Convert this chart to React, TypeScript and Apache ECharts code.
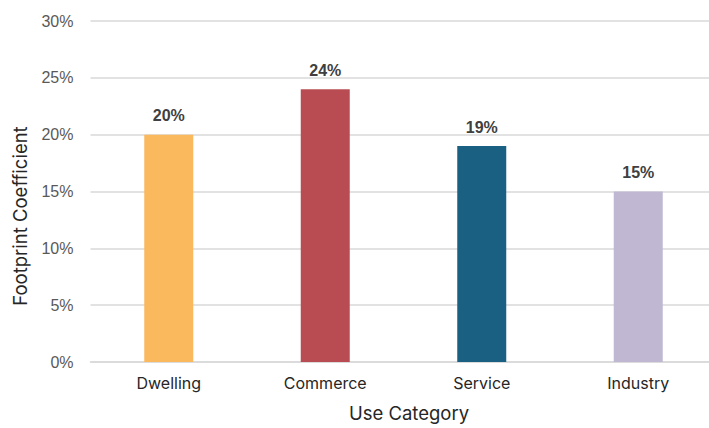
import React, { useEffect, useRef } from "react";
import * as echarts from "echarts";

const categories = ["Dwelling", "Commerce", "Service", "Industry"];
const values = [20, 24, 19, 15];
const barColors = ["#FBB95E", "#B84C52", "#1A6082", "#C0B8D3"];
const yTicks = [0, 5, 10, 15, 20, 25, 30];
const xTitle = "Use Category";
const yTitle = "Footprint Coefficient";

export default function App() {
  const ref = useRef<HTMLDivElement>(null);
  useEffect(() => {
    document.body.style.margin = "0";
    const chart = echarts.init(ref.current!, null, { renderer: "svg" });
    chart.setOption({
      animation: false,
      grid: { left: 90.5, top: 21, width: 626, height: 341, containLabel: false },
      xAxis: {
        type: "category",
        data: categories,
        axisTick: { show: false },
        axisLine: { lineStyle: { color: "#d9d9d9", width: 1.5 } },
        axisLabel: { color: "#262626", fontSize: 16, fontFamily: "Inter", margin: 13 },
      },
      yAxis: {
        type: "value",
        min: yTicks[0],
        max: yTicks[yTicks.length - 1],
        interval: 5,
        axisLabel: {
          formatter: "{value}%",
          color: "#595959",
          fontSize: 16,
          fontFamily: "Liberation Sans",
          margin: 17,
        },
        splitLine: { lineStyle: { color: "#d9d9d9", width: 1.5 } },
        axisLine: { show: false },
        axisTick: { show: false },
      },
      graphic: [
        {
          type: "text",
          x: 409,
          y: 422,
          style: {
            text: xTitle,
            fill: "#262626",
            font: "18.5px Inter",
            textAlign: "center",
            textVerticalAlign: "bottom",
          },
        },
        {
          type: "text",
          x: 20,
          y: 216,
          rotation: Math.PI / 2,
          style: {
            text: yTitle,
            fill: "#262626",
            font: "18.5px Inter",
            textAlign: "center",
            textVerticalAlign: "middle",
          },
        },
      ],
      series: [
        {
          type: "bar",
          barWidth: 49,
          data: values.map((v, i) => ({ value: v, itemStyle: { color: barColors[i] } })),
          label: {
            show: true,
            position: "top",
            distance: 11,
            formatter: "{c}%",
            color: "#404040",
            fontSize: 16,
            fontWeight: "bold",
            fontFamily: "Liberation Sans",
          },
        },
      ],
    });
    return () => chart.dispose();
  }, []);
  return (
    <div style={{ width: 709, height: 428, overflow: "hidden", position: "relative" }}>
      <div ref={ref} style={{ width: 730, height: 428 }} />
    </div>
  );
}
